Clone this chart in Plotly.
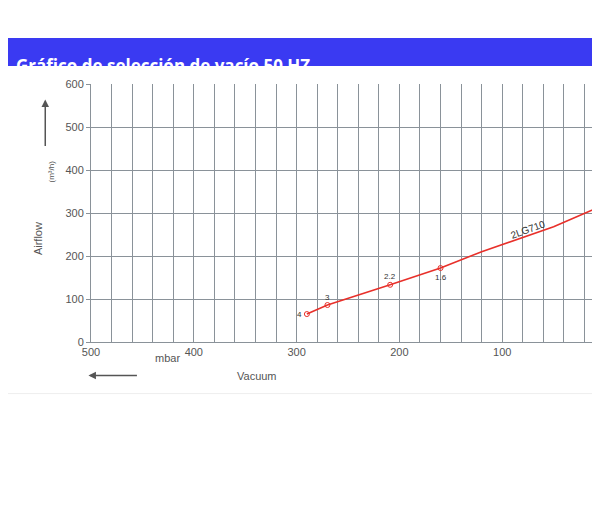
import plotly.graph_objects as go

# Curve 2LG710
vacuum = [290, 270, 209, 160, 120, 50, 0]
airflow = [65, 86, 133, 172, 210, 268, 320]
point_vac = [290, 270, 209, 160]
point_air = [65, 86, 133, 172]
point_labels = ["4", "3", "2.2", "1.6"]

grey = "#555555"
fig = go.Figure()
fig.add_trace(go.Scatter(x=vacuum, y=airflow, mode="lines",
                         line=dict(color="#e8302a", width=1.6), hoverinfo="skip"))
fig.add_trace(go.Scatter(x=point_vac, y=point_air, mode="markers",
                         marker=dict(symbol="circle-open", color="#e8302a", size=5, line=dict(width=1))))

offsets = {"4": (-7, 0), "3": (0, 8), "2.2": (0, 8), "1.6": (0, -9)}
for v, a, t in zip(point_vac, point_air, point_labels):
    dx, dy = offsets[t]
    fig.add_annotation(x=v, y=a, text=t, showarrow=False, xshift=dx, yshift=dy,
                       font=dict(size=8, color="#333"))
fig.add_annotation(x=75, y=262, text="2LG710", showarrow=False, textangle=-20,
                   font=dict(size=10, color="#333"))

fig.update_xaxes(range=[500, 0], tickvals=list(range(0, 501, 20)),
                 ticktext=[str(v) if v % 100 == 0 else "" for v in range(0, 501, 20)],
                 showgrid=True, gridcolor="#8a9299", gridwidth=1, showline=True, linecolor="#8a9299",
                 ticks="outside", ticklen=0, tickfont=dict(size=11, color=grey), zeroline=False)
fig.update_yaxes(range=[0, 600], dtick=100, showgrid=True, gridcolor="#8a9299",
                 showline=True, linecolor="#8a9299", ticks="outside", ticklen=4, tickcolor="#8a9299",
                 tickfont=dict(size=11, color=grey), zeroline=False)

# title bar
fig.add_shape(type="rect", xref="paper", yref="paper", x0=-0.2, x1=1.1, y0=1.070, y1=1.178,
              fillcolor="#3a3af2", line_width=0, layer="below")
fig.add_annotation(xref="paper", yref="paper", x=-0.15, y=1.124, xanchor="left",
                   text="<b>Gráfico de selección de vacío 50 HZ</b>", showarrow=False,
                   font=dict(size=17, color="white", family="Open Sans"))
fig.add_shape(type="line", xref="paper", yref="paper", x0=-0.2, x1=1.1, y0=-0.2, y1=-0.2,
              line=dict(color="#eeeeee", width=1))

fig.add_annotation(xref="paper", yref="paper", x=0.12, y=-0.03, text="mbar", showarrow=False,
                   yanchor="top", font=dict(size=11, color=grey))
fig.add_annotation(xref="paper", yref="paper", x=0.28, y=-0.10, text="Vacuum", showarrow=False,
                   yanchor="top", font=dict(size=11, color=grey))
fig.add_annotation(xref="paper", yref="paper", x=-0.005, y=-0.13, ax=50, ay=0,
                   text="", showarrow=True, arrowhead=2,
                   arrowsize=1, arrowwidth=1.5, arrowcolor=grey)
fig.add_annotation(xref="paper", yref="paper", x=-0.089, y=0.94, ax=0, ay=48,
                   text="", showarrow=True, arrowhead=2,
                   arrowsize=1, arrowwidth=1.5, arrowcolor=grey)
fig.add_annotation(xref="paper", yref="paper", x=-0.089, y=0.66, text="(m³/h)", showarrow=False,
                   textangle=-90, font=dict(size=8, color=grey))
fig.add_annotation(xref="paper", yref="paper", x=-0.12, y=0.40, text="Airflow", showarrow=False,
                   textangle=-90, font=dict(size=11, color=grey))

fig.update_layout(width=600, height=514, margin=dict(l=83, r=3, t=76, b=180),
                  plot_bgcolor="white", paper_bgcolor="white", showlegend=False,
                  font=dict(family="Liberation Sans"))
fig.write_html("out.html")
